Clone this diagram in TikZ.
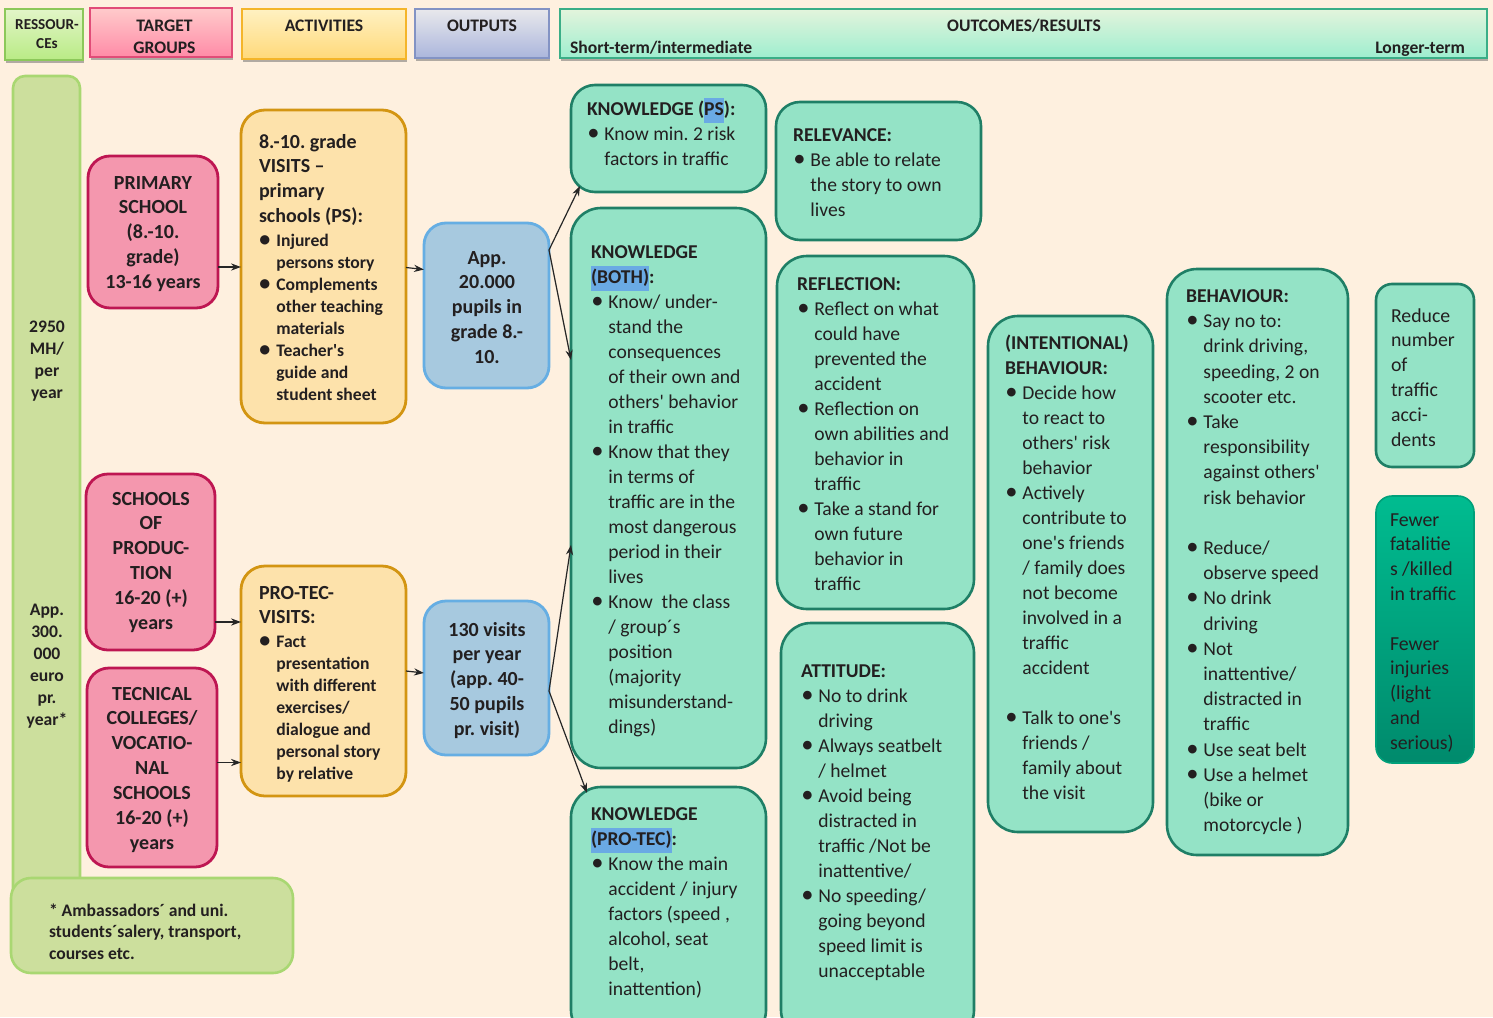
\documentclass[tikz,border=0pt]{standalone}
\usepackage{fontspec}
\setmainfont{Carlito}[Ligatures=TeXOff]
\usetikzlibrary{arrows.meta,calc,shadows}
\frenchspacing
\definecolor{bg}{HTML}{FEF0DF}
\definecolor{tcol}{HTML}{231F20}
\definecolor{rfill}{HTML}{CCDF9D}
\definecolor{rdraw}{HTML}{A9D772}
\definecolor{pfill}{HTML}{F497AE}
\definecolor{pdraw}{HTML}{BE1652}
\definecolor{ofill}{HTML}{FDE2AB}
\definecolor{odraw}{HTML}{D39512}
\definecolor{bfill}{HTML}{A7C9DF}
\definecolor{bdraw}{HTML}{66AEE3}
\definecolor{gfill}{HTML}{94E3C6}
\definecolor{gdraw}{HTML}{1F7F66}
\definecolor{hlblue}{HTML}{6AAAE4}
\definecolor{dgtop}{HTML}{00BC90}
\definecolor{dgbot}{HTML}{008A6C}
\definecolor{hrt}{HTML}{E2F5C8}\definecolor{hrb}{HTML}{B9EB85}\definecolor{hrd}{HTML}{8CC85A}
\definecolor{htt}{HTML}{FFCBCB}\definecolor{htb}{HTML}{FF8BA7}\definecolor{htd}{HTML}{E14C78}
\definecolor{hat}{HTML}{FFF1C2}\definecolor{hab}{HTML}{FFD97A}\definecolor{had}{HTML}{F4B52A}
\definecolor{hot}{HTML}{E8E8EC}\definecolor{hob}{HTML}{ABB6DC}\definecolor{hod}{HTML}{8393C4}
\definecolor{hct}{HTML}{E3F4DC}\definecolor{hcb}{HTML}{9EEECF}\definecolor{hcd}{HTML}{3AAE87}
\newcommand{\lft}[1]{\vtop{\hsize=170pt\parindent=0pt\parskip=0pt\raggedright\leavevmode #1\par}}
\newcommand{\ctr}[2]{\vtop{\hsize=#1\parindent=0pt\parskip=0pt\centering\leavevmode #2\par}}
\newcommand{\bu}{\makebox[8.7pt][l]{\hspace{0.2pt}\scalebox{1.25}{\textbullet}}}
\newcommand{\ii}{\hspace*{8.7pt}}
\newcommand{\hlb}[1]{{\setlength{\fboxsep}{0pt}\colorbox{hlblue}{\strut#1}}}
\newcommand{\bx}[6]{\node[#2, anchor=north west, minimum width={(#5-#3)*0.5pt}, minimum height={(#6-#4)*0.5pt}] (#1) at (#3,#4) {};}
\newcommand{\tx}[5]{\node[text=tcol, inner sep=0pt, outer sep=0pt, #4] (#1) at (#2,#3) {#5};}
\tikzset{
  every node/.style={inner sep=0pt, outer sep=0pt},
  hdr/.style={line width=0.9pt, drop shadow={shadow xshift=0.4pt, shadow yshift=-1.4pt, fill=black!60, opacity=0.5}},
  resbox/.style={draw=rdraw, fill=rfill, line width=1.3pt, rounded corners=6pt},
  notebox/.style={draw=rdraw, fill=rfill, line width=1.3pt, rounded corners=10pt},
  pbox/.style={draw=pdraw, fill=pfill, line width=1.4pt, rounded corners=11pt},
  obox/.style={draw=odraw, fill=ofill, line width=1.4pt, rounded corners=12pt},
  bbox/.style={draw=bdraw, fill=bfill, line width=1.4pt, rounded corners=11pt},
  gbox/.style={draw=gdraw, fill=gfill, line width=1.3pt, rounded corners=12pt},
  gbig/.style={gbox, rounded corners=15pt},
  gsm/.style={gbox, rounded corners=8pt},
  dgbox/.style={draw=dgtop!85!black, line width=0.8pt, top color=dgtop, bottom color=dgbot, rounded corners=8pt},
  fG/.style={font=\fontsize{9.8}{12.5}\selectfont},
  fB/.style={font=\bfseries\fontsize{10}{12.45}\selectfont},
  fS/.style={font=\bfseries\fontsize{8.8}{11}\selectfont},
  fH/.style={font=\bfseries\fontsize{8.8}{11}\selectfont},
  fN/.style={font=\bfseries\fontsize{8.8}{10.75}\selectfont},
  fR/.style={font=\bfseries\fontsize{7.6}{9.5}\selectfont},
  arr/.style={draw=black!85, line width=0.6pt, -{Stealth[length=5pt,width=3.6pt]}},
}
\begin{document}
\begin{tikzpicture}[x=0.5pt,y=-0.5pt]
\useasboundingbox (0,0) rectangle (1493,1017);
\clip (0,0) rectangle (1493,1017);
\fill[bg] (0,0) rectangle (1493,1017);

% ---------- header ----------
\bx{hres}{hdr, draw=hrd, top color=hrt, bottom color=hrb}{5}{9}{83}{60}
\bx{htg}{hdr, draw=htd, top color=htt, bottom color=htb}{90}{8}{232}{57}
\bx{hact}{hdr, draw=had, top color=hat, bottom color=hab}{242}{9}{406}{59}
\bx{hout}{hdr, draw=hod, top color=hot, bottom color=hob}{415}{9}{549}{58}
\bx{houtc}{hdr, draw=hcd, top color=hct, bottom color=hcb}{560}{9}{1487}{58}
\tx{hresT}{47}{29.5}{anchor=base, fR}{\ctr{38pt}{RESSOUR-\\CEs}}
\tx{htgT}{164.5}{31.5}{anchor=base, fH}{\ctr{70pt}{TARGET\\GROUPS}}
\tx{hactT}{324}{32}{anchor=base, fH}{ACTIVITIES}
\tx{houtT}{482}{31.5}{anchor=base, fH}{OUTPUTS}
\tx{houtcT}{1024}{31.5}{anchor=base, fH}{OUTCOMES/RESULTS}
\tx{shortT}{570}{53.5}{anchor=base west, fH}{Short-term/intermediate}
\tx{longT}{1465}{53.5}{anchor=base east, fH}{Longer-term}

% ---------- resources ----------
\bx{rescol}{resbox}{13}{76}{80}{930}
\bx{note}{notebox}{11}{878}{293}{973}
\tx{rescolA}{47}{332}{anchor=base, fS}{\ctr{33pt}{2950\\MH/\\per\\year}}
\tx{rescolB}{47}{615}{anchor=base, fS}{\ctr{33pt}{App.\\300.\\000\\euro\\pr.\\year*}}
\tx{noteT}{49}{916}{anchor=base west, fN}{\lft{* Ambassadors´ and uni.\\students´salery, transport,\\courses etc.}}

% ---------- target groups ----------
\bx{pk1}{pbox}{88}{156}{218}{308}
\bx{pk2}{pbox}{86}{474}{215}{650}
\bx{pk3}{pbox}{87}{668}{217}{867}
\tx{pk1T}{153}{189}{anchor=base, fB}{\ctr{64pt}{PRIMARY\\SCHOOL\\(8.-10.\\grade)\\13-16 years}}
\tx{pk2T}{151}{505}{anchor=base, fB}{\ctr{64pt}{SCHOOLS\\OF\\PRODUC-\\TION\\16-20 (+)\\years}}
\tx{pk3T}{152}{700}{anchor=base, fB}{\ctr{64pt}{TECNICAL\\COLLEGES/\\VOCATIO-\\NAL\\SCHOOLS\\16-20 (+)\\years}}

% ---------- activities ----------
\bx{or1}{obox}{241}{110}{406}{423}
\bx{or2}{obox}{241}{566}{406}{796}
\tx{or1T}{259}{148}{anchor=base west, fB}{\lft{8.-10. grade\\VISITS \textendash\\primary\\schools (PS):}}
\tx{or1B}{259}{246}{anchor=base west, fS}{\lft{\bu Injured\\\ii persons story\\\bu Complements\\\ii other teaching\\\ii materials\\\bu Teacher's\\\ii guide and\\\ii student sheet}}
\tx{or2T}{259}{599}{anchor=base west, fB}{\lft{PRO-TEC-\\VISITS:}}
\tx{or2B}{259}{647}{anchor=base west, fS}{\lft{\bu Fact\\\ii presentation\\\ii with different\\\ii exercises/\\\ii dialogue and\\\ii personal story\\\ii by relative}}

% ---------- outputs ----------
\bx{bl1}{bbox}{424}{223}{549}{388}
\bx{bl2}{bbox}{424}{601}{549}{755}
\tx{bl1T}{487}{264}{anchor=base, fB}{\ctr{62pt}{App.\\20.000\\pupils in\\grade 8.-\\10.}}
\tx{bl2T}{487}{636}{anchor=base, fB}{\ctr{62pt}{130 visits\\per year\\(app. 40-\\50 pupils\\pr. visit)}}

% ---------- outcomes ----------
\bx{kps}{gbox}{571}{85}{766}{192}
\bx{kboth}{gbig}{571}{208}{766}{768}
\bx{kpt}{gbig}{571}{787}{766}{1040}
\bx{rel}{gbox}{776}{102}{981}{240}
\bx{refl}{gbig}{777}{256}{974}{609}
\bx{att}{gbig}{781}{623}{974}{1040}
\bx{intb}{gbig}{988}{316}{1153}{832}
\bx{beh}{gbig}{1167}{269}{1348}{855}
\bx{red}{gsm}{1376}{284}{1474}{467}
\bx{few}{dgbox}{1376}{496}{1474}{763}

\tx{kpsT}{587}{115.5}{anchor=base west, fG}{\lft{\textbf{KNOWLEDGE (\hlb{PS}):}\\\bu Know min. 2 risk\\\ii factors in traffic}}
\tx{kbothT}{591}{258.5}{anchor=base west, fG}{\lft{\textbf{KNOWLEDGE}\\\textbf{\hlb{(BOTH)}:}\\\bu Know/ under-\\\ii stand the\\\ii consequences\\\ii of their own and\\\ii others' behavior\\\ii in traffic\\\bu Know that they\\\ii in terms of\\\ii traffic are in the\\\ii most dangerous\\\ii period in their\\\ii lives\\\bu Know\ \ the class\\\ii / group´s\\\ii position\\\ii (majority\\\ii misunderstand-\\\ii dings)}}
\tx{kptT}{591}{820.5}{anchor=base west, fG}{\lft{\textbf{KNOWLEDGE}\\\textbf{\hlb{(PRO-TEC)}:}\\\bu Know the main\\\ii accident / injury\\\ii factors (speed ,\\\ii alcohol, seat\\\ii belt,\\\ii inattention)}}
\tx{relT}{793}{141.5}{anchor=base west, fG}{\lft{\textbf{RELEVANCE:}\\\bu Be able to relate\\\ii the story to own\\\ii lives}}
\tx{reflT}{797}{290.5}{anchor=base west, fG}{\lft{\textbf{REFLECTION:}\\\bu Reflect on what\\\ii could have\\\ii prevented the\\\ii accident\\\bu Reflection on\\\ii own abilities and\\\ii behavior in\\\ii traffic\\\bu Take a stand for\\\ii own future\\\ii behavior in\\\ii traffic}}
\tx{attT}{801}{677.5}{anchor=base west, fG}{\lft{\textbf{ATTITUDE:}\\\bu No to drink\\\ii driving\\\bu Always seatbelt\\\ii / helmet\\\bu Avoid being\\\ii distracted in\\\ii traffic /Not be\\\ii inattentive/\\\bu No speeding/\\\ii going beyond\\\ii speed limit is\\\ii unacceptable}}
\tx{intbT}{1005}{349.5}{anchor=base west, fG}{\lft{\textbf{(INTENTIONAL)}\\\textbf{BEHAVIOUR:}\\\bu Decide how\\\ii to react to\\\ii others' risk\\\ii behavior\\\bu Actively\\\ii contribute to\\\ii one's friends\\\ii / family does\\\ii not become\\\ii involved in a\\\ii traffic\\\ii accident\\\mbox{}\\\bu Talk to one's\\\ii friends /\\\ii family about\\\ii the visit}}
\tx{behT}{1186}{302.5}{anchor=base west, font=\fontsize{9.8}{12.6}\selectfont}{\lft{\textbf{BEHAVIOUR:}\\\bu Say no to:\\\ii drink driving,\\\ii speeding, 2 on\\\ii scooter etc.\\\bu Take\\\ii responsibility\\\ii against others'\\\ii risk behavior\\\mbox{}\\\bu Reduce/\\\ii observe speed\\\bu No drink\\\ii driving\\\bu Not\\\ii inattentive/\\\ii distracted in\\\ii traffic\\\bu Use seat belt\\\bu Use a helmet\\\ii (bike or\\\ii motorcycle )}}
\tx{redT}{1391}{322}{anchor=base west, font=\fontsize{9.9}{12.4}\selectfont}{\lft{Reduce\\number\\of\\traffic\\acci-\\dents}}
\tx{fewT}{1390}{526}{anchor=base west, font=\fontsize{9.9}{12.4}\selectfont}{\lft{Fewer\\fatalitie\\s /killed\\in traffic\\\mbox{}\\Fewer\\injuries\\(light\\and\\serious)}}

% ---------- connectors ----------
\draw[arr] (pk1.east |- 0,267) -- (or1.west |- 0,267);
\draw[arr] (or1.east |- 0,267.5) -- (bl1.west |- 0,269.5);
\draw[arr] (pk2.east |- 0,622) -- (or2.west |- 0,622);
\draw[arr] (pk3.east |- 0,762.5) -- (or2.west |- 0,762.5);
\draw[arr] (or2.east |- 0,671) -- (bl2.west |- 0,673);
\draw[arr] (bl1.east |- 0,250) -- ($(kps.south west)+(9,-6)$);
\draw[arr] (bl1.east |- 0,250) -- (kboth.west |- 0,360);
\draw[arr] (bl2.east |- 0,691) -- (kboth.west |- 0,545);
\draw[arr] (bl2.east |- 0,691) -- ($(kpt.north west)+(16,6)$);
\end{tikzpicture}
\end{document}
